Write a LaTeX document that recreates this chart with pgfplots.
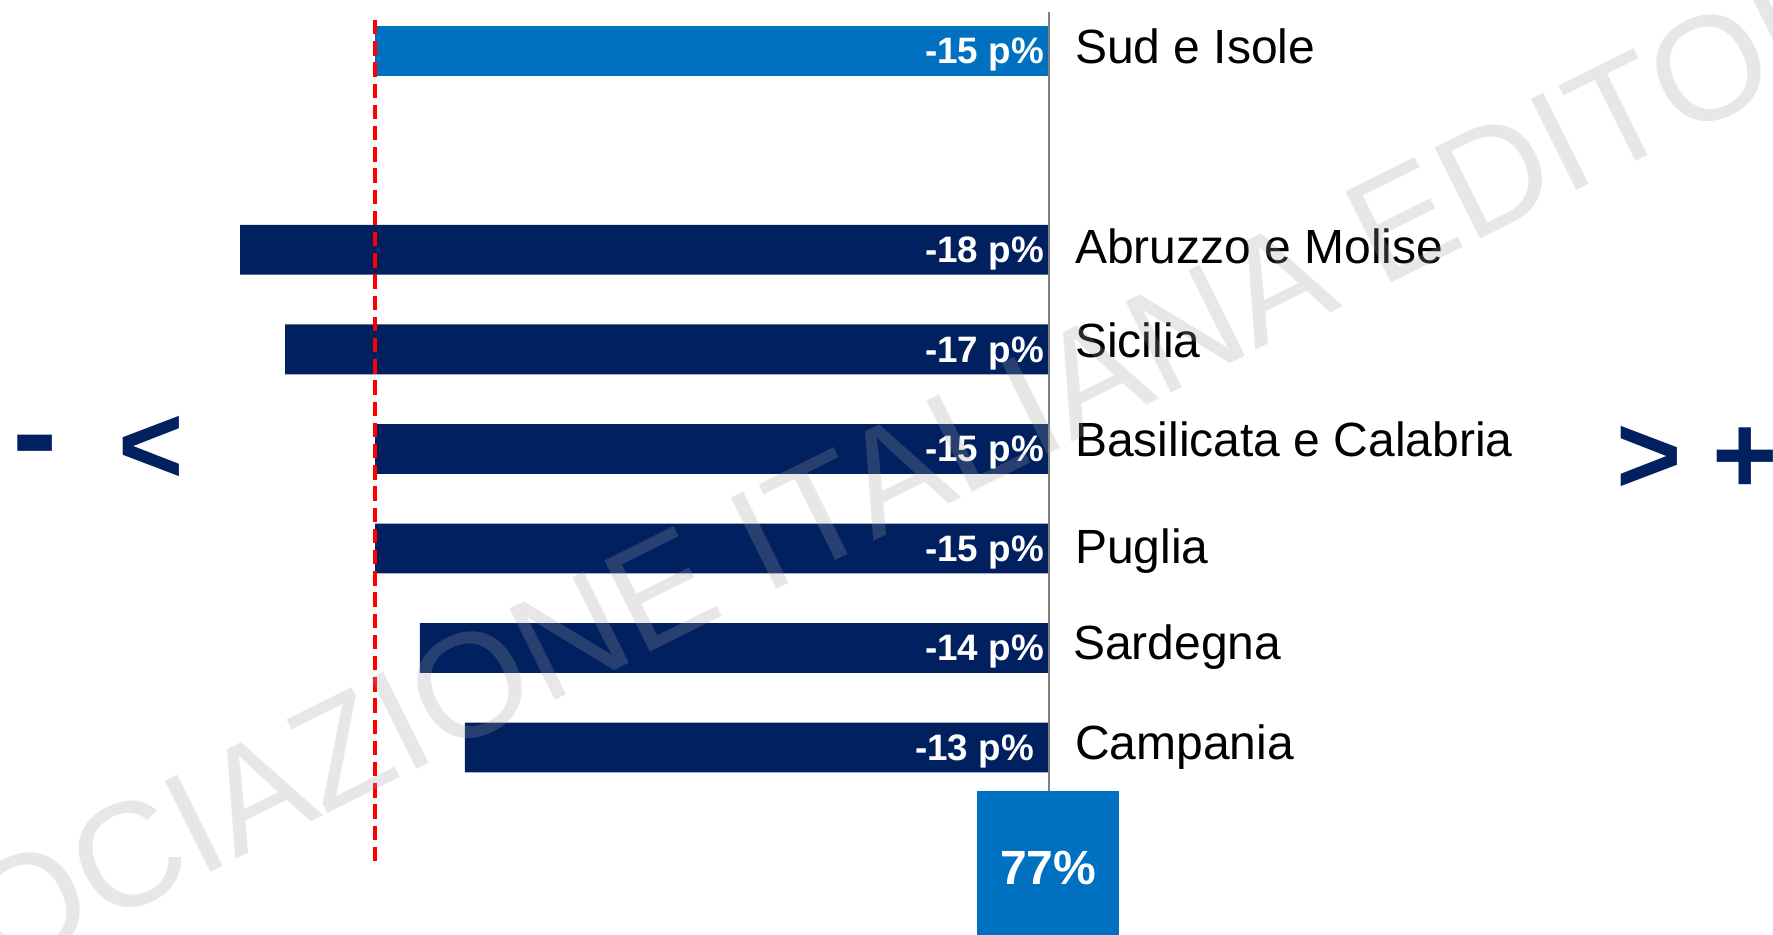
\documentclass[border=0pt]{standalone}
\usepackage{pgfplots}
\pgfplotsset{compat=1.18}
\usepackage{pgfplotstable}
\usepackage{fontspec}
\setmainfont{Liberation Sans}
\definecolor{navy}{RGB}{0,32,96}
\definecolor{aieblue}{RGB}{0,112,192}
\definecolor{axisgray}{RGB}{128,128,128}
\definecolor{wm}{RGB}{160,160,160}

% regional change vs. national value (percentage points); p = row position
\pgfplotstableread{
p val
0 -13
1 -14
2 -15
3 -15
4 -17
5 -18
}\regioni
\pgfplotstableread{
p val
7 -15
}\macro

\begin{document}
\begin{tikzpicture}
\useasboundingbox (0,0) rectangle (443.25pt,233.5pt);
\clip (0,0) rectangle (443.25pt,233.5pt);
\begin{axis}[
  at={(0,0)}, anchor=south west, scale only axis,
  width=443.25pt, height=233.5pt,
  xmin=-23.346, xmax=16.113, ymin=-1.875, ymax=7.511,
  hide axis, clip=false,
  xbar, bar width=0.5,
]
\addplot[fill=navy, draw=none, bar shift=0pt] table[x=val,y=p]{\regioni};
\addplot[fill=aieblue, draw=none, bar shift=0pt] table[x=val,y=p]{\macro};
% zero line
\draw[axisgray, line width=0.5pt] (axis cs:0,7.39) -- (axis cs:0,-0.44);
% reference line
\draw[red, line width=1pt, dash pattern=on 3.6pt off 1.7pt] (axis cs:-15,7.31) -- (axis cs:-15,-1.18);
% total box
\fill[aieblue] (axis cs:-1.602,-0.438) rectangle (axis cs:1.558,-2.3);
\node[anchor=base, text=white, font=\bfseries\fontsize{12}{14}\selectfont, inner sep=0pt] at (axis cs:-0.02,-1.373) {77\%};
% bar labels
\tikzset{bl/.style={anchor=base east, text=white, font=\bfseries\fontsize{9.2}{11}\selectfont, inner sep=0pt, xshift=-1.1pt, yshift=-3.25pt}}
\node[bl] at (axis cs:0,7) {-15 p\%};
\node[bl] at (axis cs:0,5) {-18 p\%};
\node[bl] at (axis cs:0,4) {-17 p\%};
\node[bl] at (axis cs:0,3) {-15 p\%};
\node[bl] at (axis cs:0,2) {-15 p\%};
\node[bl] at (axis cs:0,1) {-14 p\%};
\node[bl, xshift=-2.5pt] at (axis cs:0,0) {-13 p\%};
% category labels
\tikzset{cl/.style={anchor=base west, text=black, font=\fontsize{12}{14}\selectfont, inner sep=0pt, xshift=6.3pt}}
\node[cl, yshift=-3.1pt] at (axis cs:0,7) {Sud e Isole};
\node[cl, yshift=-3.5pt] at (axis cs:0,5) {Abruzzo e Molise};
\node[cl, yshift=-2.1pt] at (axis cs:0,4) {Sicilia};
\node[cl, yshift=-1.9pt] at (axis cs:0,3) {Basilicata e Calabria};
\node[cl, yshift=-3.8pt] at (axis cs:0,2) {Puglia};
\node[cl, yshift=-2.9pt, xshift=-0.5pt] at (axis cs:0,1) {Sardegna};
\node[cl, yshift=-2.9pt] at (axis cs:0,0) {Campania};
\end{axis}
% side markers
\node[anchor=base, text=navy, font=\bfseries\fontsize{34}{36}\selectfont, inner sep=0pt] at (8.75pt,114pt) {-};
\node[anchor=base, text=navy, font=\bfseries\fontsize{28}{30}\selectfont, inner sep=0pt] at (37.9pt,112.6pt) {<};
\node[anchor=base, text=navy, font=\bfseries\fontsize{28}{30}\selectfont, inner sep=0pt] at (412.25pt,110.25pt) {>};
\node[anchor=base, text=navy, font=\bfseries\fontsize{28}{30}\selectfont, inner sep=0pt] at (436.25pt,110.25pt) {+};
% watermark
\node[rotate=26.5, text=wm, text opacity=0.25, font=\fontsize{37}{38}\selectfont, inner sep=0pt] at (200.6pt,103.5pt) {ASSOCIAZIONE ITALIANA EDITORI};
\end{tikzpicture}
\end{document}
